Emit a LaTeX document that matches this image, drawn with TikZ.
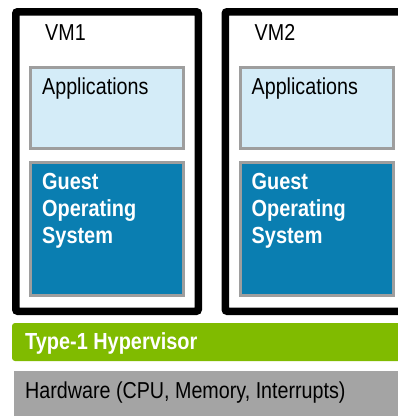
\documentclass[tikz,border=0pt]{standalone}
\usepackage{fontspec}
\setmainfont{Liberation Sans}
\usepackage{tikz}

\definecolor{appblue}{HTML}{D4ECF8}
\definecolor{osblue}{HTML}{0A7EB1}
\definecolor{hvgreen}{HTML}{80BB00}
\definecolor{hwgrey}{HTML}{A4A4A4}
\definecolor{edgegrey}{HTML}{9E9E9E}

% slightly taller letters, as in the picture
\newcommand{\tall}[1]{\scalebox{1}[1.17]{#1}}

\tikzset{
    vmbox/.style={draw=black, line width=7.5pt, rounded corners=2pt, minimum width=182.5pt, minimum height=299.5pt, inner sep=0pt},
    appbox/.style={draw=edgegrey, fill=appblue, line width=3pt, minimum width=153pt, minimum height=81pt, inner sep=0pt},
    osbox/.style={draw=edgegrey, fill=osblue, line width=3pt, minimum width=153pt, minimum height=133pt, inner sep=0pt},
    txt/.style={anchor=base west, inner sep=0pt, font=\fontsize{19.7}{27}\selectfont, align=left},
    boldtxt/.style={txt, text=white, font=\fontsize{19.9}{27}\bfseries}
}

\begin{document}
\begin{tikzpicture}[x=1pt,y=-1pt]

    \clip (0,0) rectangle (398,416);
    \fill[white] (0,0) rectangle (398,416);

    % virtual machines
    % nodes
    \node[vmbox] (vm1) at (107,161.5) {};
    \node[vmbox] (vm2) at (316.5,161.5) {};
    \node[appbox] (app1) at (107,108) {};
    \node[appbox] (app2) at (316.5,108) {};
    \node[osbox] (os1) at (107,229) {};
    \node[osbox] (os2) at (316.5,229) {};

    % labels (base of last line)
    \node[txt] (vm1lbl) at (45,40) {\tall{VM1}};
    \node[txt] (vm2lbl) at (254.5,40) {\tall{VM2}};
    \node[txt] (app1lbl) at (42,94) {\tall{Applications}};
    \node[txt] (app2lbl) at (251.5,94) {\tall{Applications}};
    \node[boldtxt] (os1lbl) at (42,243) {\tall{Guest}\\\tall{Operating}\\\tall{System}};
    \node[boldtxt] (os2lbl) at (251.5,243) {\tall{Guest}\\\tall{Operating}\\\tall{System}};

    % layers below
    \fill[hvgreen, rounded corners=3pt] (12,323) rectangle (410,361);
    \node[boldtxt] (hv) at (25,349) {\tall{Type-1 Hypervisor}};
    \fill[hwgrey] (14,371) rectangle (410,420);
    \node[txt] (hw) at (25,398) {\tall{Hardware (CPU, Memory, Interrupts)}};

\end{tikzpicture}
\end{document}
